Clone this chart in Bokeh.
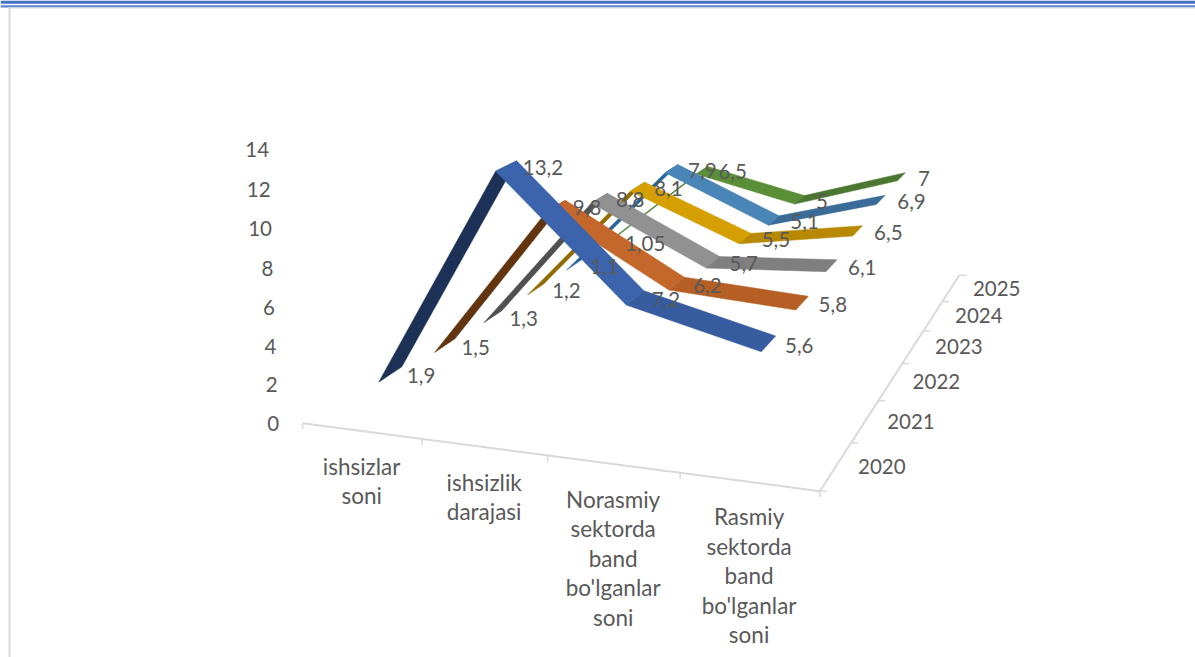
from bokeh.plotting import figure
from bokeh.models import Range1d
from bokeh.core.properties import value
from bokeh.embed import file_html
from bokeh.resources import INLINE

years = ["2020", "2021", "2022", "2023", "2024", "2025"]
categories = [
    ["ishsizlar", "soni"],
    ["ishsizlik", "darajasi"],
    ["Norasmiy", "sektorda", "band", "bo'lganlar", "soni"],
    ["Rasmiy", "sektorda", "band", "bo'lganlar", "soni"],
]
y_ticks = [0, 2, 4, 6, 8, 10, 12, 14]

s2020 = [1.9, 13.2, 7.2, 5.6]
s2021 = [1.5, 9.8, 6.2, 5.8]
s2022 = [1.3, 8.8, 5.7, 6.1]
s2023 = [1.2, 8.1, 5.5, 6.5]
s2024 = [1.1, 7.9, 5.1, 6.9]
s2025 = [1.05, 6.5, 5, 7]
series = [s2020, s2021, s2022, s2023, s2024, s2025]

# rising / falling / last segment shades per series
shades = [
    ("#1c3155", "#3b64ad", "#365b9f"),
    ("#62340f", "#c4672a", "#b55f24"),
    ("#505050", "#919191", "#7f7f7f"),
    ("#8f6b00", "#d59f00", "#b88900"),
    ("#27659a", "#4a85b8", "#3b6c99"),
    ("#4a7f30", "#5a8f38", "#4b7730"),
]

# Perspective camera of the 3-D chart: (category, value, depth) -> page pixels
CAM = [110.4133765, -1.2773534, 86.023183, 361.1273718,
       4.900421, -20.1152107, -14.2154249, 430.5315556,
       -0.0250309, -0.0018815, 0.067628]
RIBBON = 0.4


def project(x, y, z):
    d = CAM[8] * x + CAM[9] * y + CAM[10] * z + 1
    return ((CAM[0] * x + CAM[1] * y + CAM[2] * z + CAM[3]) / d,
            (CAM[4] * x + CAM[5] * y + CAM[6] * z + CAM[7]) / d)


FONT = value("Lato")
TXT = "#595959"
W, H = 1195, 657

p = figure(width=W, height=H, x_range=Range1d(0, W), y_range=Range1d(H, 0),
           output_backend="svg", toolbar_location=None, min_border=0,
           margin=(0, 0, 0, 0), outline_line_color=None,
           background_fill_color="white", border_fill_color="white")
p.xaxis.visible = False
p.yaxis.visible = False
p.grid.visible = False

# window chrome
p.quad(left=0, right=W, top=0, bottom=3.3, fill_color="#4472c4", line_color=None)
p.quad(left=0, right=W, top=4.7, bottom=7, fill_color="#5b84cf", line_color=None)
p.quad(left=8, right=W, top=7, bottom=8.5, fill_color="#e8efe6", line_color=None)
p.quad(left=8, right=10, top=7.5, bottom=H, fill_color="#d9d9d9", line_color=None)

# floor axes
AXC = "#d9d9d9"
n_cat, n_year = len(categories), len(years)
ax = [project(-.5, 0, 0), project(n_cat - .5, 0, 0), project(n_cat - .5, 0, n_year)]
p.line([a[0] for a in ax], [a[1] for a in ax], line_color=AXC, line_width=2)
for i in range(n_cat + 1):
    u, v = project(i - .5, 0, 0)
    p.line([u, u], [v, v + 6], line_color=AXC, line_width=1.5)
for j in range(n_year + 1):
    u, v = project(n_cat - .5, 0, j)
    p.line([u, u + 7], [v, v], line_color=AXC, line_width=1.5)

# ribbons, farthest series first
for j in reversed(range(n_year)):
    z0, z1 = j + .5 - RIBBON / 2, j + .5 + RIBBON / 2
    vals = series[j]
    for k in range(n_cat - 1):
        pts = [project(k, vals[k], z0), project(k, vals[k], z1),
               project(k + 1, vals[k + 1], z1), project(k + 1, vals[k + 1], z0)]
        p.patch([a[0] for a in pts], [a[1] for a in pts], fill_color=shades[j][k],
                line_color=shades[j][k], line_width=0.5)


def label(u, v, s, align="left", size="20.5px"):
    p.text([u], [v], text=[s], text_font=FONT, text_font_size=size, text_color=TXT,
           text_align=align, text_baseline="middle")


# data labels
for j in range(n_year):
    for k in range(n_cat):
        u, v = project(k, series[j][k], j + .5)
        label(u + 16.5, v + 1.5, str(series[j][k]).replace(".", ","))

# value-axis tick labels
for t in y_ticks:
    u, v = project(-.5, t, 0)
    label(u - 23.5, v, str(t), "right")

# depth-axis labels
for j, y in enumerate(years):
    u, v = project(n_cat - .5, 0, j + .5)
    label(u + 22, v, y)

# category labels
for i, lines in enumerate(categories):
    u, v = project(i, 0, 0)
    for n, s in enumerate(lines):
        label(u, v + 35 + 29.5 * n, s, "center", "22.5px")

open("out.html", "w").write(file_html(p, INLINE))
